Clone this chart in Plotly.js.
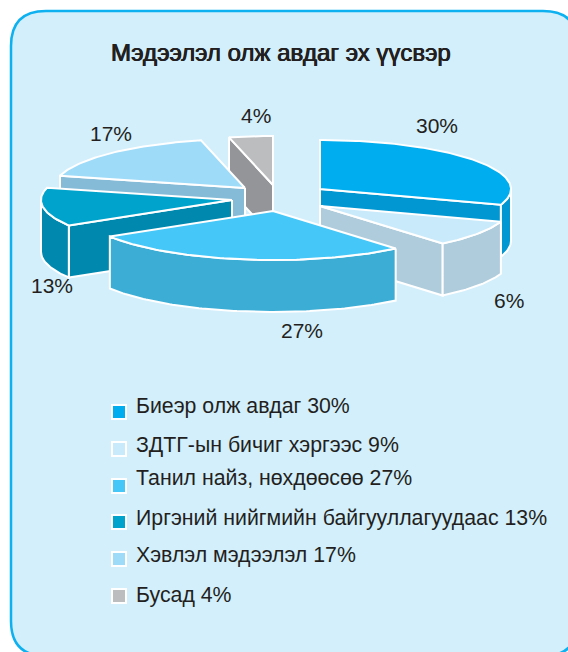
<!DOCTYPE html>
<html><head><meta charset="utf-8">
<script src="https://cdn.plot.ly/plotly-3.0.1.min.js"></script>
<style>html,body{margin:0;padding:0;background:#fff}#c{width:568px;height:652px}</style>
</head><body><div id="c"></div>
<script>
const categories = ["Биеэр олж авдаг","ЗДТГ-ын бичиг хэргээс","Танил найз, нөхдөөсөө","Иргэний нийгмийн байгууллагуудаас","Хэвлэл мэдээлэл","Бусад"];
const legendPct = [30,9,27,13,17,4];
const labelPct = [30,6,27,13,17,4];
const sliceShares = [30.2,8.7,27.4,12.7,17.3,3.7];
const topColors = ["#00AEEF","#C9EAFA","#45C7F7","#00A3CC","#9EDBF9","#BBBDBF"];
const sideColors = ["#0097D2","#AECCDC","#3CAED6","#0088AF","#85BBD7","#939598"];

// pie drawing geometry (screen units of the hidden axes)
const RX=191, RY=49, DEPTH=52;
const apexes=[[320,189],[320,206],[273,211],[232,200],[245,188],[273,185]];
const labelPos=[[437,125],[509,300],[302,330],[52,285],[111,133],[256,115]];
const drawOrder=[5,4,3,0,1,2];
const legendMarkerY=[412,449,486,522,559,596];
const legendTextY=[406,445,478,518,555,595];

const rad=d=>d*Math.PI/180;
let a=-90; const spans=sliceShares.map(v=>{const s=[a,a+v*3.6];a+=v*3.6;return s;});
function rim(c,t,dy){return [c[0]+RX*Math.cos(rad(t)),c[1]+RY*Math.sin(rad(t))+dy];}
function arc(c,t0,t1,dy){const pts=[];const n=Math.max(2,Math.ceil(Math.abs(t1-t0)));for(let i=0;i<=n;i++)pts.push(rim(c,t0+(t1-t0)*i/n,dy));return pts;}
function poly(pts,color){
  const x=pts.map(p=>p[0]),y=pts.map(p=>p[1]);x.push(x[0]);y.push(y[0]);
  return {type:'scatter',mode:'lines',x,y,fill:'toself',fillcolor:color,line:{color:'#fff',width:2},hoverinfo:'skip',showlegend:false};
}
const traces=[];
drawOrder.forEach(i=>{
  const [s,e]=spans[i],c=apexes[i],side=sideColors[i];
  if(Math.cos(rad(s))<0){const r=rim(c,s,0);traces.push(poly([c,r,[r[0],r[1]+DEPTH],[c[0],c[1]+DEPTH]],side));}
  if(Math.cos(rad(e))>0){const r=rim(c,e,0);traces.push(poly([c,r,[r[0],r[1]+DEPTH],[c[0],c[1]+DEPTH]],side));}
  const w0=Math.max(s,0),w1=Math.min(e,180);
  if(w1>w0){traces.push(poly(arc(c,w0,w1,0).concat(arc(c,w1,w0,DEPTH)),side));}
  traces.push(poly([c].concat(arc(c,s,e,0)),topColors[i]));
});
categories.forEach((n,i)=>{
  traces.push({type:'scatter',mode:'markers',x:[119],y:[legendMarkerY[i]],marker:{symbol:'square',size:14,color:topColors[i],line:{color:'#fff',width:2}},hoverinfo:'skip',showlegend:false});
});

const ink='#231F20';
const ann=[];
labelPct.forEach((v,i)=>ann.push({x:labelPos[i][0],y:labelPos[i][1],text:v+'%',showarrow:false,xanchor:'center',yanchor:'middle',font:{family:'Liberation Sans',size:21,color:ink}}));
categories.forEach((n,i)=>ann.push({x:134,y:legendTextY[i],text:n+' '+legendPct[i]+'%',showarrow:false,xanchor:'left',yanchor:'middle',font:{family:'Liberation Sans',size:21.3,color:ink}}));
ann.push({x:281,y:52,text:'Мэдээлэл олж авдаг эх үүсвэр',showarrow:false,xanchor:'center',yanchor:'middle',font:{family:'Liberation Sans',size:24,color:ink,shadow:'0.4px 0 0 #231F20, -0.4px 0 0 #231F20'}});

const L=11,T=11,R=578,B=656,r=35;
const border=`M ${L+r} ${T} L ${R-r} ${T} Q ${R} ${T} ${R} ${T+r} L ${R} ${B-r} Q ${R} ${B} ${R-r} ${B} L ${L+r} ${B} Q ${L} ${B} ${L} ${B-r} L ${L} ${T+r} Q ${L} ${T} ${L+r} ${T} Z`;
Plotly.newPlot('c',traces,{
  width:568,height:652,margin:{l:0,r:0,t:0,b:0},paper_bgcolor:'#fff',plot_bgcolor:'#fff',showlegend:false,
  xaxis:{range:[0,568],visible:false,fixedrange:true},
  yaxis:{range:[652,0],visible:false,fixedrange:true},
  shapes:[{type:'path',path:border,layer:'below',fillcolor:'#D3EFFC',line:{color:'#0DB1F0',width:2.5}}],
  annotations:ann
},{displayModeBar:false,staticPlot:true});
</script></body></html>
